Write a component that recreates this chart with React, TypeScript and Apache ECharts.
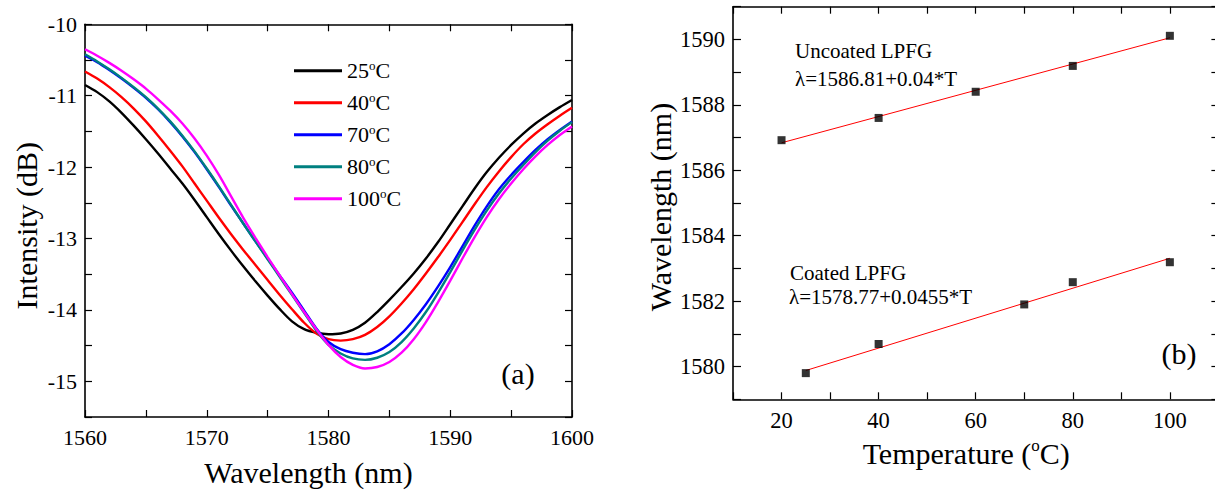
import React, { useEffect, useRef } from 'react';
import * as echarts from 'echarts';

const FONT = "'Liberation Serif', 'Times New Roman', Times, serif";

// ---- Panel (a): transmission spectra (dB) ----
const wavelengths = [1560, 1561, 1562, 1563, 1564, 1565, 1566, 1567, 1568, 1569, 1570, 1571, 1572, 1573, 1574, 1575, 1576, 1577, 1578, 1579, 1580, 1581, 1582, 1583, 1584, 1585, 1586, 1587, 1588, 1589, 1590, 1591, 1592, 1593, 1594, 1595, 1596, 1597, 1598, 1599, 1600];
const int25 = [-10.85, -10.95, -11.08, -11.24, -11.42, -11.61, -11.81, -12.02, -12.23, -12.46, -12.70, -12.94, -13.17, -13.39, -13.60, -13.80, -13.99, -14.16, -14.27, -14.32, -14.34, -14.33, -14.28, -14.18, -14.03, -13.86, -13.68, -13.49, -13.28, -13.05, -12.80, -12.55, -12.30, -12.07, -11.87, -11.69, -11.53, -11.39, -11.27, -11.16, -11.06];
const int40 = [-10.66, -10.76, -10.88, -11.02, -11.18, -11.36, -11.56, -11.77, -11.99, -12.23, -12.47, -12.71, -12.94, -13.16, -13.37, -13.58, -13.79, -13.99, -14.18, -14.33, -14.41, -14.43, -14.41, -14.35, -14.24, -14.09, -13.91, -13.71, -13.49, -13.26, -13.02, -12.77, -12.52, -12.28, -12.06, -11.86, -11.68, -11.53, -11.40, -11.28, -11.17];
const int70 = [-10.44, -10.53, -10.64, -10.76, -10.89, -11.03, -11.19, -11.37, -11.57, -11.79, -12.03, -12.28, -12.54, -12.79, -13.04, -13.28, -13.52, -13.76, -14.01, -14.26, -14.45, -14.55, -14.60, -14.62, -14.58, -14.48, -14.33, -14.14, -13.92, -13.67, -13.40, -13.11, -12.82, -12.55, -12.31, -12.11, -11.93, -11.76, -11.61, -11.48, -11.36];
const int80 = [-10.42, -10.52, -10.63, -10.75, -10.88, -11.02, -11.18, -11.36, -11.56, -11.78, -12.02, -12.27, -12.53, -12.79, -13.04, -13.29, -13.54, -13.79, -14.04, -14.29, -14.49, -14.61, -14.68, -14.70, -14.67, -14.59, -14.45, -14.26, -14.03, -13.76, -13.47, -13.17, -12.88, -12.61, -12.37, -12.16, -11.97, -11.79, -11.63, -11.49, -11.37];
const int100 = [-10.35, -10.44, -10.54, -10.65, -10.77, -10.90, -11.05, -11.21, -11.39, -11.60, -11.84, -12.11, -12.41, -12.71, -12.99, -13.26, -13.52, -13.78, -14.03, -14.27, -14.49, -14.66, -14.77, -14.82, -14.80, -14.73, -14.60, -14.41, -14.17, -13.89, -13.59, -13.28, -12.98, -12.70, -12.45, -12.23, -12.03, -11.85, -11.69, -11.55, -11.43];
const spectraNames = ['25°C', '40°C', '70°C', '80°C', '100°C'];
const spectraColors = ['#000000', '#ff0000', '#0000ff', '#008080', '#ff00ff'];
const spectra = [int25, int40, int70, int80, int100];

// ---- Panel (b): resonance wavelength vs temperature ----
const uncoatedT = [20, 40, 60, 80, 100];
const uncoatedWl = [1586.92, 1587.6, 1588.4, 1589.19, 1590.11];
const coatedT = [25, 40, 70, 80, 100];
const coatedWl = [1579.8, 1580.69, 1581.9, 1582.58, 1583.19];
const uncoatedFitT = [20, 100];
const uncoatedFitWl = [1586.84, 1590.05];
const coatedFitT = [25, 100];
const coatedFitWl = [1579.88, 1583.31];

const near = (v: number, step: number) => Math.abs(v / step - Math.round(v / step)) < 1e-6;

const lineStyleAxis = { color: '#000', width: 1.6 };
const tickStyle = { show: true, inside: true, length: 7, lineStyle: { color: '#000', width: 1.2 } };
const labelBase = { fontFamily: FONT, color: '#000' };
const tickRich = (size: number) => ({ t: { fontFamily: FONT, fontSize: size, color: '#000', lineHeight: size + 2 } });

function mirror(gridIndex: number, position: string, min: number, max: number, interval: number) {
  return {
    gridIndex, type: 'value', position, min, max, interval,
    axisLine: { show: true, onZero: false, lineStyle: lineStyleAxis },
    axisTick: tickStyle,
    axisLabel: { show: false },
    splitLine: { show: false },
  };
}

export default function App() {
  const ref = useRef<HTMLDivElement>(null);
  useEffect(() => {
    if (!ref.current) return;
    const chart = echarts.init(ref.current, null, { renderer: 'svg' });
    const option: any = {
      animation: false,
      backgroundColor: '#ffffff',
      textStyle: { fontFamily: FONT, color: '#000' },
      grid: [
        { left: 85, top: 24.3, width: 487, height: 392.7, outerBoundsMode: 'none' },
        { left: 733, top: 6.7, width: 485.4, height: 392.6, outerBoundsMode: 'none' },
      ],
      xAxis: [
        {
          gridIndex: 0, type: 'value', position: 'bottom', min: 1560, max: 1600, interval: 5,
          axisLine: { show: true, onZero: false, lineStyle: lineStyleAxis },
          axisTick: tickStyle,
          axisLabel: {
            ...labelBase, fontSize: 22, margin: 8, rich: tickRich(22),
            formatter: (v: number) => (near(v, 10) ? `{t|${v}}` : ''),
          },
          splitLine: { show: false },
          name: 'Wavelength (nm)', nameLocation: 'middle', nameGap: 40,
          nameTextStyle: { ...labelBase, fontSize: 30, padding: [0, 40, 0, 0] },
        },
        mirror(0, 'top', 1560, 1600, 5),
        {
          gridIndex: 1, type: 'value', position: 'bottom', min: 10, max: 110, interval: 10,
          axisLine: { show: true, onZero: false, lineStyle: lineStyleAxis },
          axisTick: tickStyle,
          axisLabel: {
            ...labelBase, fontSize: 22.5, margin: 9, rich: tickRich(22.5),
            formatter: (v: number) => (near(v, 20) && v >= 20 && v <= 100 ? `{t|${v}}` : ''),
          },
          splitLine: { show: false },
          name: '{n|Temperature (}{s|o}{n|C)}', nameLocation: 'middle', nameGap: 38,
          nameTextStyle: {
            ...labelBase, fontSize: 30, padding: [0, 19, 0, 0],
            rich: {
              n: { fontFamily: FONT, fontSize: 30, color: '#000', lineHeight: 32 },
              s: { fontFamily: FONT, fontSize: 17, color: '#000', verticalAlign: 'top', lineHeight: 17 },
            },
          },
        },
        mirror(1, 'top', 10, 110, 10),
      ],
      yAxis: [
        {
          gridIndex: 0, type: 'value', position: 'left', min: -15.5, max: -10, interval: 0.5,
          axisLine: { show: true, onZero: false, lineStyle: lineStyleAxis },
          axisTick: tickStyle,
          axisLabel: {
            ...labelBase, fontSize: 22, margin: 8, rich: tickRich(22),
            formatter: (v: number) => (near(v, 1) ? `{t|${Math.round(v)}}` : ''),
          },
          splitLine: { show: false },
          name: 'Intensity (dB)', nameLocation: 'middle', nameGap: 44,
          nameTextStyle: { ...labelBase, fontSize: 30, padding: [0, 10, 0, 0] },
        },
        mirror(0, 'right', -15.5, -10, 0.5),
        {
          gridIndex: 1, type: 'value', position: 'left', min: 1579, max: 1591, interval: 1,
          axisLine: { show: true, onZero: false, lineStyle: lineStyleAxis },
          axisTick: { ...tickStyle, length: 8 },
          axisLabel: {
            ...labelBase, fontSize: 22.5, margin: 8, rich: tickRich(22.5),
            formatter: (v: number) => (near(v, 2) && v >= 1580 && v <= 1590 ? `{t|${v}}` : ''),
          },
          splitLine: { show: false },
          name: 'Wavelength (nm)', nameLocation: 'middle', nameGap: 58,
          nameTextStyle: { ...labelBase, fontSize: 30, padding: [0, 8, 0, 0] },
        },
        mirror(1, 'right', 1579, 1591, 1),
      ],
      legend: {
        data: spectraNames,
        orient: 'vertical',
        left: 294,
        top: 58.7,
        padding: 0,
        itemGap: 8,
        itemWidth: 48,
        itemHeight: 3,
        icon: 'rect',
        formatter: (name: string) => `{n|${name.replace('°C', '')}}{s|o}{n|C}`,
        textStyle: {
          fontFamily: FONT, fontSize: 22, color: '#000', lineHeight: 24,
          rich: {
            n: { fontFamily: FONT, fontSize: 22, color: '#000', lineHeight: 24 },
            s: { fontFamily: FONT, fontSize: 13, color: '#000', verticalAlign: 'top', lineHeight: 13 },
          },
        },
      },
      series: [
        ...spectra.map((vals, i) => ({
          name: spectraNames[i],
          type: 'line',
          xAxisIndex: 0,
          yAxisIndex: 0,
          showSymbol: false,
          smooth: 0.3,
          color: spectraColors[i],
          lineStyle: { color: spectraColors[i], width: 2.4 },
          data: wavelengths.map((w, j) => [w, vals[j]]),
        })),
        {
          name: 'Uncoated fit', type: 'line', xAxisIndex: 2, yAxisIndex: 2, showSymbol: false,
          lineStyle: { color: '#ff0000', width: 1 }, color: '#ff0000', z: 2,
          data: uncoatedFitT.map((t, j) => [t, uncoatedFitWl[j]]),
        },
        {
          name: 'Coated fit', type: 'line', xAxisIndex: 2, yAxisIndex: 2, showSymbol: false,
          lineStyle: { color: '#ff0000', width: 1 }, color: '#ff0000', z: 2,
          data: coatedFitT.map((t, j) => [t, coatedFitWl[j]]),
        },
        {
          name: 'Uncoated LPFG', type: 'scatter', xAxisIndex: 2, yAxisIndex: 2,
          symbol: 'rect', symbolSize: 8, itemStyle: { color: '#000' }, z: 3,
          data: uncoatedT.map((t, j) => [t, uncoatedWl[j]]),
        },
        {
          name: 'Coated LPFG', type: 'scatter', xAxisIndex: 2, yAxisIndex: 2,
          symbol: 'rect', symbolSize: 8, itemStyle: { color: '#000' }, z: 3,
          data: coatedT.map((t, j) => [t, coatedWl[j]]),
        },
      ],
      graphic: [
        { type: 'text', x: 518, y: 373, style: { text: '(a)', fontFamily: FONT, fontSize: 30, fill: '#000', align: 'center', verticalAlign: 'middle' } },
        { type: 'text', x: 1179, y: 353, style: { text: '(b)', fontFamily: FONT, fontSize: 30, fill: '#000', align: 'center', verticalAlign: 'middle' } },
        { type: 'text', x: 795, y: 51, style: { text: 'Uncoated LPFG', fontFamily: FONT, fontSize: 21, fill: '#000', align: 'left', verticalAlign: 'middle' } },
        { type: 'text', x: 795, y: 79, style: { text: 'λ=1586.81+0.04*T', fontFamily: FONT, fontSize: 21, fill: '#000', align: 'left', verticalAlign: 'middle' } },
        { type: 'text', x: 790, y: 273, style: { text: 'Coated LPFG', fontFamily: FONT, fontSize: 21, fill: '#000', align: 'left', verticalAlign: 'middle' } },
        { type: 'text', x: 789, y: 297, style: { text: 'λ=1578.77+0.0455*T', fontFamily: FONT, fontSize: 21, fill: '#000', align: 'left', verticalAlign: 'middle' } },
      ],
    };
    chart.setOption(option);
    return () => chart.dispose();
  }, []);
  return <div ref={ref} style={{ position: 'absolute', left: 0, top: 0, width: 1215, height: 491 }} />;
}
